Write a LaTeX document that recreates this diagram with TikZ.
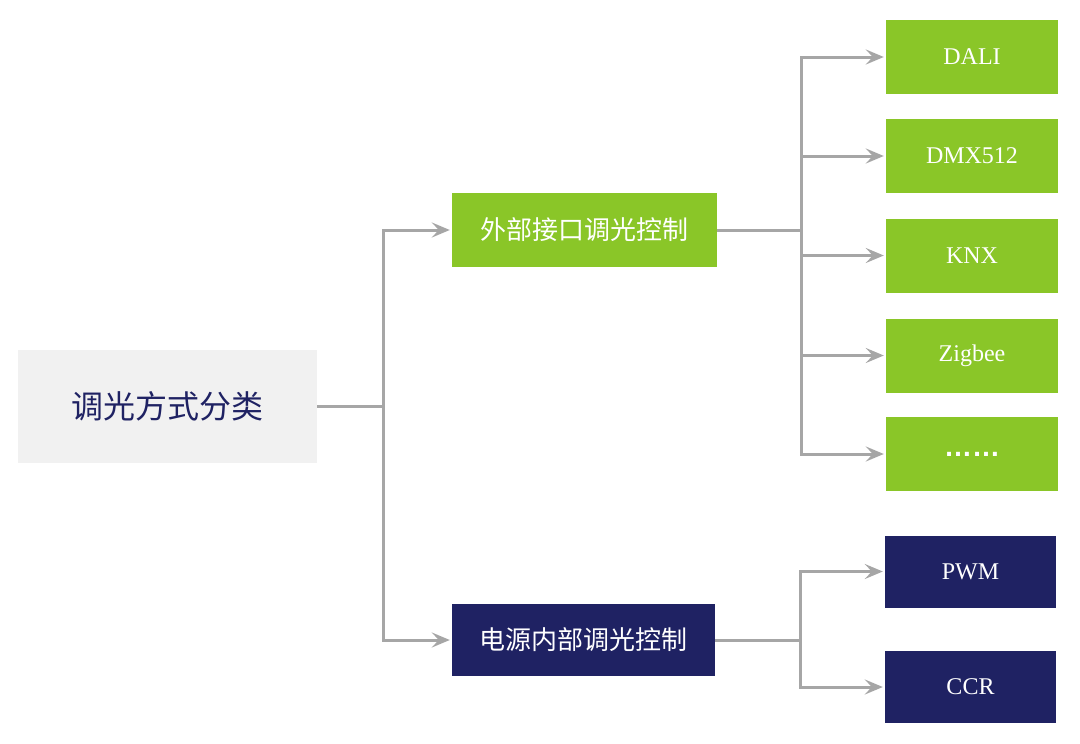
\documentclass[tikz,border=0pt]{standalone}
\usepackage{fontspec}
\setmainfont{Liberation Serif}
\newfontfamily\cjk{Noto Sans CJK SC}
\newfontfamily\dotfont{Liberation Sans}
\usetikzlibrary{arrows.meta}
\definecolor{lgreen}{HTML}{8AC628}
\definecolor{navy}{HTML}{1F2263}
\definecolor{lgray}{HTML}{F1F1F1}
\definecolor{conngray}{HTML}{A6A6A6}
\tikzset{
  boxbase/.style={rectangle, inner sep=0pt, draw=none},
  rootbox/.style={boxbase, fill=lgray, text=navy, minimum width=299pt, minimum height=113pt, font=\cjk\fontsize{32}{36}\selectfont},
  midgreen/.style={boxbase, fill=lgreen, text=white, minimum width=265pt, minimum height=74pt, font=\cjk\fontsize{26}{30}\selectfont},
  midnavy/.style={boxbase, fill=navy, text=white, minimum width=263pt, minimum height=72pt, font=\cjk\fontsize{26}{30}\selectfont},
  leafgreen/.style={boxbase, fill=lgreen, text=white, minimum width=172pt, minimum height=74pt, font=\fontsize{24}{28}\selectfont},
  leafnavy/.style={boxbase, fill=navy, text=white, minimum width=171pt, minimum height=72pt, font=\fontsize{24}{28}\selectfont},
  conn/.style={draw=conngray, line width=3pt},
  arr/.style={conn, -{Stealth[length=18pt,width=15pt,inset=7pt]}, shorten >=2pt},
}
\begin{document}
\begin{tikzpicture}[x=1pt,y=-1pt]
\useasboundingbox (0,0) rectangle (1080,744);
\node[rootbox] (root) at (167.5,406.5) {调光方式分类};
\node[midgreen] (ext) at (584.5,230) {外部接口调光控制};
\node[midnavy] (int) at (583.5,640) {电源内部调光控制};
\node[leafgreen] (dali) at (972,57) {DALI};
\node[leafgreen] (dmx) at (972,156) {DMX512};
\node[leafgreen] (knx) at (972,255.5) {KNX};
\node[leafgreen] (zig) at (972,355.5) {Zigbee};
\node[leafgreen, font=\dotfont\bfseries\fontsize{28}{30}\selectfont] (more) at (972,454) {……};
\node[leafnavy] (pwm) at (970.5,571.5) {PWM};
\node[leafnavy] (ccr) at (970.5,687) {CCR};
\coordinate (j1) at (383,406.5);
\coordinate (j2) at (801,230);
\coordinate (j3) at (800,640);
\draw[conn] (root.east) -- (j1);
\draw[arr] (j1) |- (ext.west);
\draw[arr] (j1) |- (int.west);
\draw[conn] (ext.east) -- (j2);
\foreach \n in {dali,dmx,knx,zig,more} \draw[arr] (j2) |- (\n.west);
\draw[conn] (int.east) -- (j3);
\draw[arr] (j3) |- (pwm.west);
\draw[arr] (j3) |- (ccr.west);
\end{tikzpicture}
\end{document}
